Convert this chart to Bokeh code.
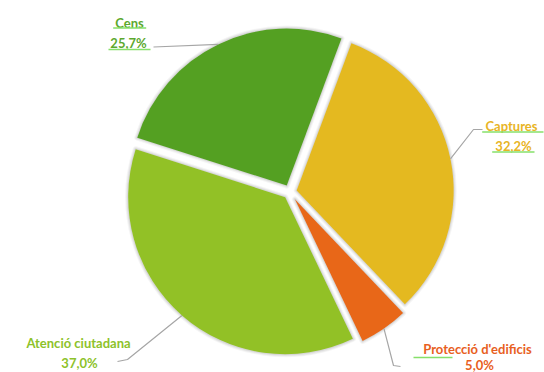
import numpy as np
from bokeh.plotting import figure
from bokeh.models import Range1d, ColumnDataSource
from bokeh.core.properties import value
from bokeh.embed import file_html
from bokeh.resources import INLINE

# ---- data ----
categories = ["Captures", "Protecció d'edificis", "Atenció ciutadana", "Cens"]
shares = [32.2, 5.0, 37.0, 25.7]
pct_labels = ["32,2%", "5,0%", "37,0%", "25,7%"]
colors = ["#E4B920", "#E86718", "#92C126", "#54A022"]
label_colors = ["#E8B425", "#E8601E", "#8DC22A", "#5CA82E"]

# ---- layout ----
W, H = 544, 372
CX, CY = 289.3, 180.6        # pie centre (px, y up)
R = 157                      # radius (px)
START = 20.4                 # first slice starts this many degrees clockwise from 12 o'clock
explode = [7, 9, 7, 7]
FONT = "Lato"
FS = "13px"

p = figure(width=W, height=H, output_backend="svg", toolbar_location=None,
           x_range=Range1d(0, W), y_range=Range1d(0, H), min_border=0)
p.axis.visible = False
p.grid.visible = False
p.outline_line_color = None
p.background_fill_color = "white"
p.border_fill_color = "white"

vals = np.array(shares, dtype=float)
frac = vals / vals.sum()
cum = np.concatenate([[0], np.cumsum(frac)]) * 360.0
cw_start = START + cum[:-1]          # clockwise from top
cw_end = START + cum[1:]
cw_mid = (cw_start + cw_end) / 2
start_ang = np.radians(90 - cw_end)
end_ang = np.radians(90 - cw_start)
mid_ang = np.radians(90 - cw_mid)

vx = CX + np.array(explode) * np.cos(mid_ang)
vy = CY + np.array(explode) * np.sin(mid_ang)

src = ColumnDataSource(dict(x=vx, y=vy, s=start_ang, e=end_ang, c=colors))

# soft shadow
for lw, la in [(6, 0.04), (4, 0.05), (2, 0.07)]:
    p.wedge(x="x", y="y", radius=R, start_angle="s", end_angle="e", source=src,
            fill_color=None, line_color="#000000", line_alpha=la, line_width=lw,
            line_join="round")
p.wedge(x="x", y="y", radius=R, start_angle="s", end_angle="e", source=src,
        fill_color="c", line_color=None)

# leader start points on the arc at each slice bisector
ax = vx + R * np.cos(mid_ang)
ay = vy + R * np.sin(mid_ang)

# leader elbows and label positions (px, y up)
elbows = [[(473, 243), (482, 243)],
          [(393, 7), (400, 6)],
          [(127, 13), (117, 11)],
          [(153, 325.5)]]
for i, pts in enumerate(elbows):
    xs = [ax[i]] + [q[0] for q in pts]
    ys = [ay[i]] + [q[1] for q in pts]
    p.line(xs, ys, line_color="#A6A6A6", line_width=1.2)

name_pos = [(511, 247), (477, 24), (78, 30), (129, 350)]
pct_pos = [(513, 227), (479, 8), (79, 10), (128, 330)]
for i in range(4):
    p.text(x=[name_pos[i][0]], y=[name_pos[i][1]], text=[categories[i]],
           text_color=label_colors[i], text_font=value(FONT), text_font_size=FS,
           text_font_style="bold", text_align="center", text_baseline="middle")
    p.text(x=[pct_pos[i][0]], y=[pct_pos[i][1]], text=[pct_labels[i]],
           text_color=label_colors[i], text_font=value(FONT), text_font_size=FS,
           text_font_style="bold", text_align="center", text_baseline="middle")

# green underline marks seen under some labels
ul_x0 = [112.7, 108, 481.7, 491.7, 413]
ul_x1 = [145.7, 150, 543, 534, 452]
ul_y = [344.5, 323.0, 240.5, 220.5, 15.0]
p.segment(x0=ul_x0, y0=ul_y, x1=ul_x1, y1=ul_y, line_color="#86E06A", line_width=1.5)

open("out.html", "w").write(file_html(p, INLINE))
